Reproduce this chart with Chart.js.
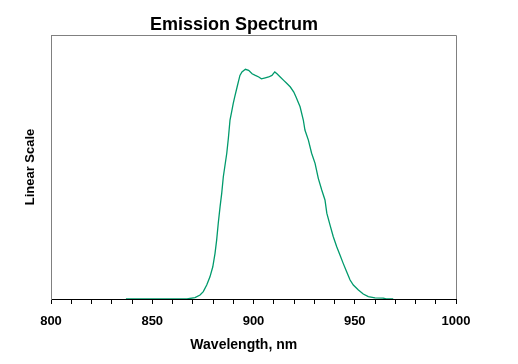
<!DOCTYPE html>
<html>
<head>
<meta charset="utf-8">
<script src="https://cdn.jsdelivr.net/npm/chart.js"></script>
<style>
    body { margin: 0; background: #fff; }
    canvas { display: block; }
</style>
</head>
<body>
<canvas id="spectrum" width="518" height="364"></canvas>
<script>
// values (intensity in % of plot height)
const wavelengths = [837, 867.2, 867.8, 871.1, 873.6, 875.2, 876.9, 878.5, 879.9, 881.0, 881.8, 882.6, 883.5, 884.3, 885.1,
    886.8, 887.6, 888.4, 889.2, 890.0, 890.7, 891.9, 892.7, 893.3, 894.3, 896.0, 897.6, 899.3, 900.9, 902.6,
    903.9, 905.8, 907.5, 909.1, 910.5, 911.6, 913.2, 914.9, 916.5, 918.2, 919.9, 921.0, 923.0, 924.6, 925.4,
    927.1, 928.7, 930.4, 932.0, 933.7, 935.3, 936.2, 937.8, 939.4, 941.1, 942.7, 944.3, 946.0, 947.7, 949.3,
    951.8, 954.2, 956.7, 960.0, 964.1, 965.5, 969];
const intensity = [0, 0, 0.1, 0.5, 1.5, 2.8, 5.3, 8.4, 12.2, 17.3, 22.3, 28.7, 35.0, 40.0, 46.3,
    55.2, 61.0, 67.8, 70.9, 74.1, 76.5, 80.3, 82.8, 84.7, 86.0, 87.0, 86.6, 85.3, 84.7, 84.1,
    83.4, 83.8, 84.1, 84.7, 86.0, 85.3, 84.1, 82.8, 81.6, 80.3, 78.4, 76.5, 72.8, 67.8, 64.0,
    60.2, 55.2, 51.4, 45.7, 41.3, 37.5, 32.5, 28.0, 23.6, 19.8, 16.7, 13.5, 10.3, 7.2, 5.3,
    3.4, 1.9, 0.9, 0.4, 0.3, 0, 0];
const xMin = 800, xMax = 1000, xStep = 10, xLabelEvery = 50;

const fontFamily = 'Arial, "Liberation Sans", sans-serif';

// gray frame on top and right of the plot area
const framePlugin = {
    id: 'frame',
    beforeDatasetsDraw(chart) {
        const { ctx, chartArea: a } = chart;
        ctx.save();
        ctx.strokeStyle = '#808080';
        ctx.lineWidth = 1;
        ctx.beginPath();
        ctx.moveTo(a.left, a.top + 0.5);
        ctx.lineTo(a.right + 0.5, a.top + 0.5);
        ctx.lineTo(a.right + 0.5, a.bottom);
        ctx.stroke();
        ctx.restore();
    }
};

new Chart(document.getElementById('spectrum'), {
    type: 'line',
    data: {
        datasets: [{
            data: wavelengths.map((w, i) => ({ x: w, y: intensity[i] })),
            borderColor: '#009a6c',
            borderWidth: 1.3,
            pointRadius: 0,
            tension: 0,
            fill: false
        }]
    },
    options: {
        responsive: false,
        animation: false,
        devicePixelRatio: 1,
        layout: { padding: { left: 12, right: 62, top: 0, bottom: 0 } },
        plugins: {
            legend: { display: false },
            tooltip: { enabled: false },
            title: {
                display: true,
                text: 'Emission Spectrum',
                color: '#000',
                font: { family: fontFamily, size: 18, weight: 'bold', lineHeight: 1 },
                padding: { top: 16, bottom: 1 }
            }
        },
        scales: {
            x: {
                type: 'linear',
                min: xMin,
                max: xMax,
                afterFit(scale) { scale.height = 65; },
                border: { color: '#000', width: 1 },
                grid: { display: true, drawOnChartArea: false, drawTicks: true, tickLength: 5, color: '#000' },
                ticks: {
                    stepSize: xStep,
                    autoSkip: false,
                    maxRotation: 0,
                    padding: 10,
                    color: '#000',
                    font: { family: fontFamily, size: 13, weight: 'bold' },
                    callback: v => (v % xLabelEvery === 0 ? v : '')
                },
                title: {
                    display: true,
                    text: 'Wavelength, nm\u00a0\u00a0\u00a0\u00a0\u00a0',
                    color: '#000',
                    font: { family: fontFamily, size: 14, weight: 'bold' },
                    padding: { top: 0, bottom: 10 }
                }
            },
            y: {
                min: 0,
                max: 100,
                afterFit(scale) { scale.width = 39; },
                border: { color: '#808080', width: 1 },
                grid: { display: false },
                ticks: { display: false },
                title: {
                    display: true,
                    text: 'Linear Scale',
                    color: '#000',
                    font: { family: fontFamily, size: 13, weight: 'bold' },
                    padding: { top: 11, bottom: 0 }
                }
            }
        }
    },
    plugins: [framePlugin]
});
</script>
</body>
</html>
